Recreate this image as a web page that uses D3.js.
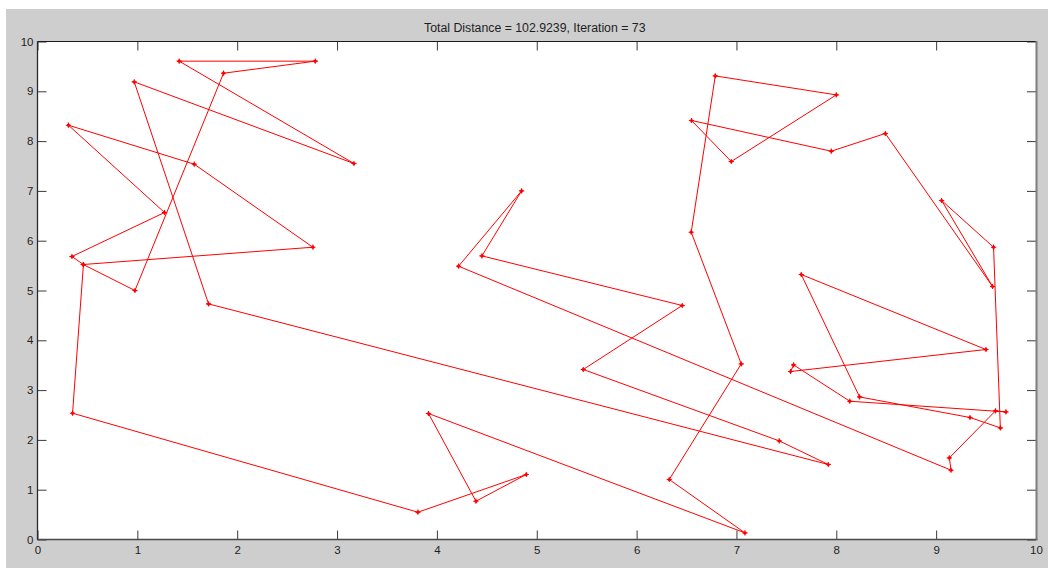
<!DOCTYPE html>
<html>
<head>
<meta charset="utf-8">
<script src="https://cdn.jsdelivr.net/npm/d3@7"></script>
<style>
  html, body { margin: 0; padding: 0; background: #ffffff; }
  svg { display: block; }
  text { font-family: "Liberation Sans", Arial, sans-serif; }
</style>
</head>
<body>
<svg id="chart" width="1048" height="568"></svg>
<script>
// Route (tour order); the last city links back to the first.
const routeX = [1.419, 2.782, 1.863, 0.976, 0.458, 2.758, 1.570, 0.310, 1.272, 0.345,
                0.460, 0.351, 3.810, 4.895, 4.391, 3.916, 7.085, 6.327, 7.048, 6.547,
                6.788, 8.000, 6.948, 6.550, 7.950, 8.491, 9.565, 9.055, 9.575, 9.643,
                9.339, 8.233, 7.649, 9.499, 7.542, 7.572, 8.135, 9.699, 9.594, 9.132,
                9.149, 4.217, 4.848, 4.451, 6.457, 5.466, 7.429, 7.920, 1.713, 0.969,
                3.169];
const routeY = [9.605, 9.605, 9.363, 5.000, 5.522, 5.869, 7.536, 8.319, 6.566, 5.683,
                5.520, 2.536, 0.548, 1.305, 0.769, 2.530, 0.133, 1.205, 3.526, 6.171,
                9.309, 8.928, 7.590, 8.414, 7.797, 8.153, 5.080, 6.807, 5.869, 2.241,
                2.450, 2.863, 5.321, 3.815, 3.373, 3.506, 2.777, 2.562, 2.582, 1.639,
                1.392, 5.488, 7.000, 5.695, 4.699, 3.414, 1.980, 1.506, 4.731, 9.189,
                7.550];
const xTicks = [0, 1, 2, 3, 4, 5, 6, 7, 8, 9, 10];
const yTicks = [0, 1, 2, 3, 4, 5, 6, 7, 8, 9, 10];
const titleText = "Total Distance = 102.9239, Iteration = 73";

const svg = d3.select("#chart");
const W = 1048, H = 568;
const L = 37.5, R = 1036, T = 41.5, B = 539.5;

// figure background (MATLAB grey)
svg.append("rect").attr("x", 6).attr("y", 9).attr("width", W - 6).attr("height", H - 9)
  .attr("fill", "#cecece");
// axes area
svg.append("rect").attr("x", L).attr("y", T).attr("width", R - L).attr("height", B - T)
  .attr("fill", "#ffffff");

const x = d3.scaleLinear().domain([0, 10]).range([L, R]);
const y = d3.scaleLinear().domain([0, 10]).range([B, T]);

const tickLen = 9;
const fmt = d3.format("d");

function styleAxis(g) {
  g.select(".domain").remove();
  g.selectAll(".tick line").attr("stroke", "#3a3a3a").attr("stroke-width", 1);
  g.selectAll(".tick text").attr("fill", "#1e1e1e").style("font-size", "11.5px")
    .style("font-family", "'Liberation Sans', Arial, sans-serif");
}

svg.append("g").attr("transform", `translate(0,${B})`)
  .call(d3.axisBottom(x).tickValues(xTicks).tickFormat(fmt).tickSizeInner(-tickLen).tickSizeOuter(0).tickPadding(6))
  .call(styleAxis);
svg.append("g").attr("transform", `translate(0,${T})`)
  .call(d3.axisTop(x).tickValues(xTicks).tickFormat("").tickSizeInner(-tickLen).tickSizeOuter(0))
  .call(styleAxis);
svg.append("g").attr("transform", `translate(${L},0)`)
  .call(d3.axisLeft(y).tickValues(yTicks).tickFormat(fmt).tickSizeInner(-tickLen).tickSizeOuter(0).tickPadding(4))
  .call(styleAxis);
svg.append("g").attr("transform", `translate(${R},0)`)
  .call(d3.axisRight(y).tickValues(yTicks).tickFormat("").tickSizeInner(-tickLen).tickSizeOuter(0))
  .call(styleAxis);

// axes frame
svg.append("line").attr("x1", L).attr("x2", R + 1).attr("y1", T).attr("y2", T)
  .attr("stroke", "#1a1a1a").attr("stroke-width", 1.2);
svg.append("line").attr("x1", L).attr("x2", L).attr("y1", T).attr("y2", B + 0.5)
  .attr("stroke", "#2a2a2a").attr("stroke-width", 1.3);
svg.append("line").attr("x1", L).attr("x2", R + 1.5).attr("y1", B).attr("y2", B)
  .attr("stroke", "#4a4a4a").attr("stroke-width", 1.6);
svg.append("line").attr("x1", R + 0.5).attr("x2", R + 0.5).attr("y1", T - 0.5).attr("y2", B)
  .attr("stroke", "#7d7d7d").attr("stroke-width", 2);

// route
const pts = routeX.map((v, i) => [v, routeY[i]]);
const closed = pts.concat([pts[0]]);
const line = d3.line().x(d => x(d[0])).y(d => y(d[1]));
svg.append("path").datum(closed).attr("d", line)
  .attr("fill", "none").attr("stroke", "#ff0000").attr("stroke-width", 1)
  .attr("stroke-linejoin", "round");

// markers: small red stars
const mk = svg.append("g");
pts.forEach(d => {
  const cx = x(d[0]), cy = y(d[1]);
  mk.append("circle").attr("cx", cx).attr("cy", cy).attr("r", 1.6).attr("fill", "#ff0000");
  mk.append("path")
    .attr("d", `M${cx - 2.6},${cy}L${cx + 2.6},${cy}M${cx},${cy - 2.6}L${cx},${cy + 2.6}`)
    .attr("stroke", "#ff0000").attr("stroke-width", 1.1);
});

// title
svg.append("text").attr("x", (L + R) / 2 - 2).attr("y", 31.5)
  .attr("text-anchor", "middle").attr("fill", "#1e1e1e")
  .style("font-size", "12.3px").text(titleText);
</script>
</body>
</html>
